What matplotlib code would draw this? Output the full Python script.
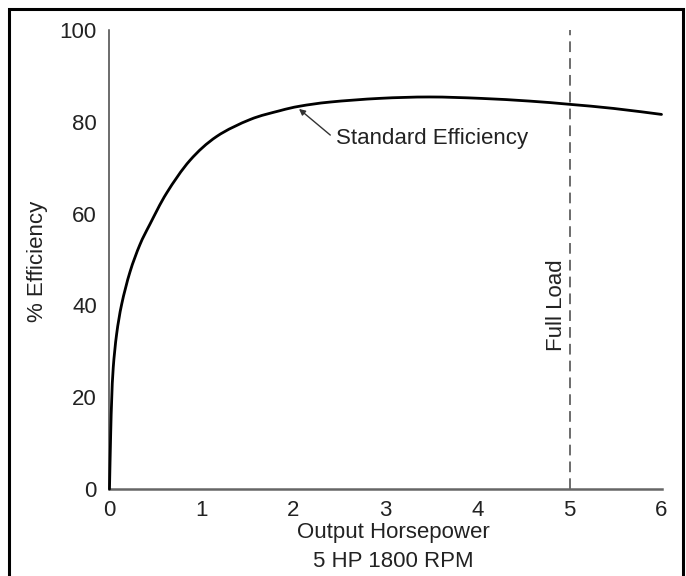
import matplotlib
matplotlib.use("Agg")
import matplotlib.pyplot as plt
import numpy as np
from matplotlib.patches import Rectangle, PathPatch
from matplotlib.path import Path
from matplotlib.transforms import IdentityTransform

# Motor efficiency curve (5 HP, 1800 RPM)
horsepower = [0.0, 0.013, 0.024, 0.041, 0.078, 0.133, 0.223, 0.33, 0.44,
              0.622, 0.875, 1.165, 1.53, 1.85, 2.07, 2.4, 2.94, 3.48,
              4.03, 4.57, 5.0, 5.48, 6.0]
efficiency = [0.0, 12.0, 19.5, 26.5, 33.8, 40.3, 47.3, 53.2, 57.7,
              64.5, 71.6, 76.8, 80.5, 82.4, 83.4, 84.3, 85.1, 85.4,
              85.1, 84.5, 83.8, 82.9, 81.6]

full_load_hp = 5
x_ticks = [0, 1, 2, 3, 4, 5, 6]
y_ticks = [0, 20, 40, 60, 80, 100]

plt.rcParams["font.family"] = ["Liberation Sans", "DejaVu Sans"]
text_color = "#222222"
fs = 16

fig = plt.figure(figsize=(6.86, 5.76), dpi=100)
ax = fig.add_axes([0.1596, 0.151, 0.8047, 0.797])
ax.set_xlim(0, 6)
ax.set_ylim(0, 100)


def smooth_path(xs, ys, transform):
    """Catmull-Rom curve through the points, built in display space."""
    pts = transform.transform(np.column_stack([xs, ys]))
    verts = [pts[0]]
    codes = [Path.MOVETO]
    n = len(pts)
    for i in range(n - 1):
        p0 = pts[i - 1] if i > 0 else pts[i]
        p1, p2 = pts[i], pts[i + 1]
        p3 = pts[i + 2] if i + 2 < n else pts[i + 1]
        c1 = p1 + (p2 - p0) / 6.0
        c2 = p2 - (p3 - p1) / 6.0
        verts += [c1, c2, p2]
        codes += [Path.CURVE4] * 3
    return Path(verts, codes)


fig.canvas.draw()
curve = PathPatch(smooth_path(horsepower, efficiency, ax.transData),
                  fill=False, edgecolor="black", lw=2.0,
                  capstyle="round", joinstyle="round", zorder=3)
curve.set_transform(IdentityTransform())
fig.add_artist(curve)

ax.plot([full_load_hp, full_load_hp], [0, 100], color="#444444", lw=1.1,
        dashes=(7, 4), zorder=2)

ax.set_xticks(x_ticks)
ax.set_yticks(y_ticks)
ax.tick_params(length=0, labelsize=fs, colors=text_color)
ax.tick_params(axis="y", pad=9)
ax.tick_params(axis="x", pad=8)

for side in ("top", "right"):
    ax.spines[side].set_visible(False)
ax.spines["left"].set_color("#444444")
ax.spines["left"].set_linewidth(1.1)
ax.spines["bottom"].set_color("#666666")
ax.spines["bottom"].set_linewidth(1.8)

ax.set_ylabel("% Efficiency", fontsize=fs, color=text_color)
ax.yaxis.set_label_coords(-0.112, 0.495, transform=ax.transAxes)
ax.set_xlabel("Output Horsepower\n5 HP 1800 RPM", fontsize=fs,
              color=text_color, linespacing=1.5)
ax.xaxis.set_label_coords(0.515, -0.072, transform=ax.transAxes)
ax.xaxis.label.set_va("top")

ax.annotate("", xy=(2.06, 82.8), xytext=(2.40, 77.1),
            arrowprops=dict(arrowstyle="-|>", color="#333333", lw=1.0,
                            mutation_scale=9, shrinkA=0, shrinkB=0))
ax.text(2.46, 76.4, "Standard Efficiency", fontsize=fs, color=text_color,
        ha="left", va="center")

ax.text(4.86, 40, "Full Load", rotation=90, fontsize=fs, color=text_color,
        ha="center", va="center")

# Frame around the figure (open at the bottom edge)
fig.patches.append(Rectangle((9 / 686, -0.05), (683 - 9) / 686,
                             1.05 - 9 / 576, transform=fig.transFigure,
                             fill=False, edgecolor="black", lw=2.2,
                             clip_on=False))

fig.savefig("out.png", dpi=100)
